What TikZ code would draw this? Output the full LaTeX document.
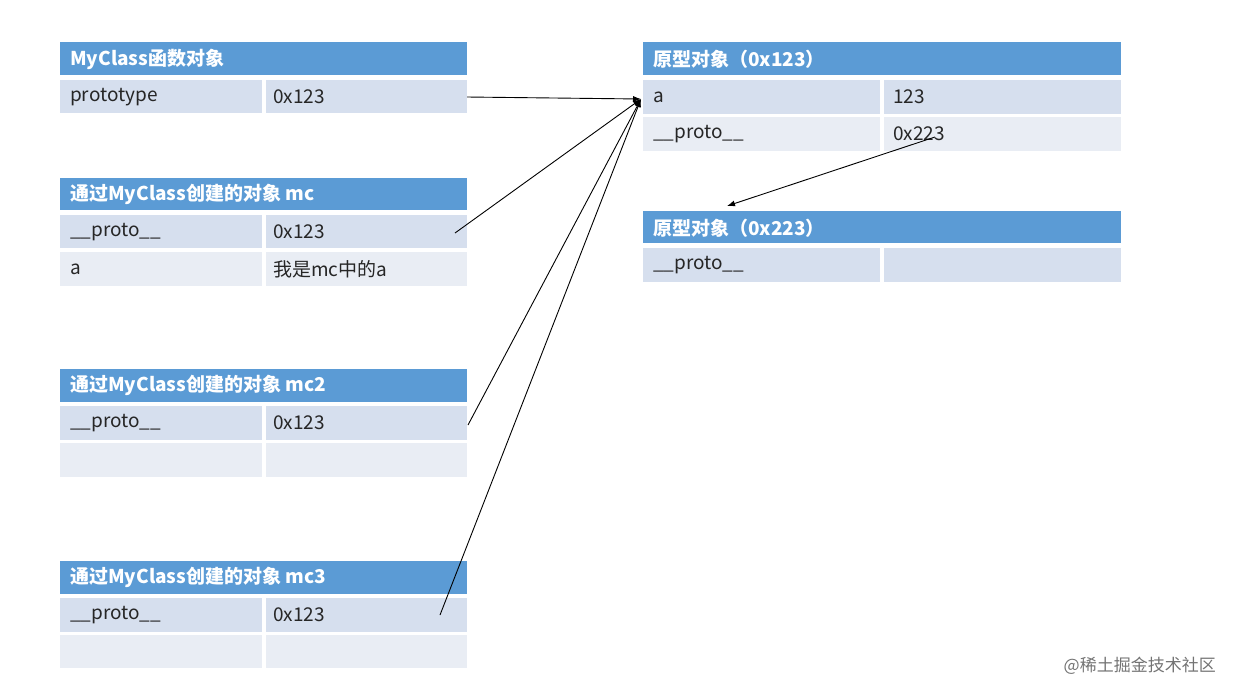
\documentclass[tikz,border=0pt]{standalone}
\usepackage{fontspec}
\setmainfont{Noto Sans CJK SC}
\usetikzlibrary{arrows.meta}
\definecolor{hd}{HTML}{5B9BD5}
\definecolor{ra}{HTML}{D6DFEE}
\definecolor{rb}{HTML}{E9EDF4}
\tikzset{
 hdr/.style={fill=hd,draw=none},
 rowa/.style={fill=ra,draw=none},
 rowb/.style={fill=rb,draw=none},
 ht/.style={anchor=west,text=white,font=\fontsize{19}{22}\selectfont\bfseries,inner sep=0},
 ct/.style={anchor=west,text=black!85,font=\fontsize{19}{22}\selectfont,inner sep=0},
 arr/.style={-{Latex[length=8pt,width=6pt]},black,line width=0.9pt}
}
\newcommand{\cellbox}[5]{% x1 y1 x2 y2 style
 \fill[#5] (#1,-#2) rectangle (#3,-#4);}
\begin{document}
\begin{tikzpicture}[x=1pt,y=1pt]
\useasboundingbox (0,0) rectangle (1236,-697);
% left tables
\cellbox{60}{42}{467}{75}{hdr}
\node[ht] (t1) at (70,-59) {MyClass函数对象};
\cellbox{60}{80}{262}{113}{rowa}\cellbox{266}{80}{467}{113}{rowa}
\node[ct] (p1) at (70,-97) {prototype};
\node[ct] (v1) at (273,-97) {0x123};

\cellbox{60}{178}{467}{210}{hdr}
\node[ht] (t2) at (70,-194) {通过MyClass创建的对象 mc};
\cellbox{60}{215}{262}{248}{rowa}\cellbox{266}{215}{467}{248}{rowa}
\cellbox{60}{252}{262}{286}{rowb}\cellbox{266}{252}{467}{286}{rowb}
\node[ct] (p2) at (70,-232) {\_\_proto\_\_};
\node[ct] (v2) at (273,-232) {0x123};
\node[ct] (a2) at (70,-269) {a};
\node[ct] (b2) at (273,-269) {我是mc中的a};

\cellbox{60}{369}{467}{402}{hdr}
\node[ht] (t3) at (70,-385) {通过MyClass创建的对象 mc2};
\cellbox{60}{406}{262}{440}{rowa}\cellbox{266}{406}{467}{440}{rowa}
\cellbox{60}{443}{262}{477}{rowb}\cellbox{266}{443}{467}{477}{rowb}
\node[ct] (p3) at (70,-423) {\_\_proto\_\_};
\node[ct] (v3) at (273,-423) {0x123};

\cellbox{60}{561}{467}{594}{hdr}
\node[ht] (t4) at (70,-577) {通过MyClass创建的对象 mc3};
\cellbox{60}{598}{262}{632}{rowa}\cellbox{266}{598}{467}{632}{rowa}
\cellbox{60}{635}{262}{668}{rowb}\cellbox{266}{635}{467}{668}{rowb}
\node[ct] (p4) at (70,-615) {\_\_proto\_\_};
\node[ct] (v4) at (273,-615) {0x123};

% right tables
\cellbox{643}{42}{1121}{75}{hdr}
\node[ht] (t5) at (653,-59) {原型对象（0x123）};
\cellbox{643}{80}{880}{114}{rowa}\cellbox{884}{80}{1121}{114}{rowa}
\cellbox{643}{117}{880}{151}{rowb}\cellbox{884}{117}{1121}{151}{rowb}
\node[ct] (a5) at (653,-97) {a};
\node[ct] (b5) at (893,-97) {123};
\node[ct] (p5) at (653,-134) {\_\_proto\_\_};
\node[ct] (v5) at (893,-134) {0x223};

\cellbox{643}{211}{1121}{243}{hdr}
\node[ht] (t6) at (653,-228) {原型对象（0x223）};
\cellbox{643}{248}{880}{282}{rowa}\cellbox{884}{248}{1121}{282}{rowa}
\node[ct] (p6) at (653,-265) {\_\_proto\_\_};

% connectors
\coordinate (tgt) at (641,-99);
\coordinate (s1) at (467,-97);
\coordinate (s2) at (455,-233);
\coordinate (s3) at (468,-425);
\coordinate (s4) at (440,-615);
\draw[arr] (s1) -- (tgt);
\draw[arr] (s2) -- (tgt);
\draw[arr] (s3) -- (tgt);
\draw[arr] (s4) -- (tgt);
\coordinate (s5) at (935,-137);
\coordinate (tgt2) at (727,-206);
\draw[arr] (s5) -- (tgt2);

\node[anchor=east,text=black!55,font=\fontsize{17}{20}\selectfont,inner sep=0] (wm) at (1216,-666) {@稀土掘金技术社区};
\end{tikzpicture}
\end{document}
